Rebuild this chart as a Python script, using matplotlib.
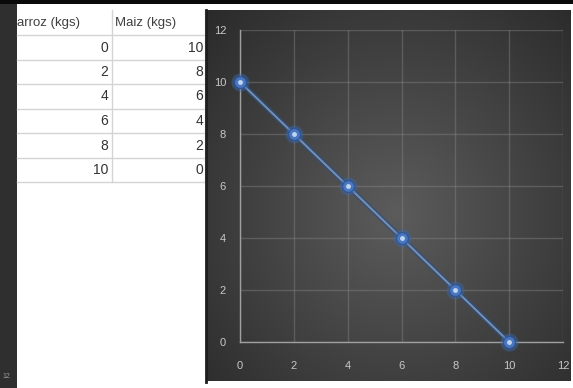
import numpy as np
import matplotlib
matplotlib.use("Agg")
import matplotlib.pyplot as plt
from matplotlib.patches import Rectangle
from matplotlib.lines import Line2D

# ---- data ----
col_headers = ["arroz (kgs)", "Maiz (kgs)"]
arroz = [0, 2, 4, 6, 8, 10]
maiz = [10, 8, 6, 4, 2, 0]
x_ticks = [0, 2, 4, 6, 8, 10, 12]
y_ticks = [0, 2, 4, 6, 8, 10, 12]

W, H = 573, 388
fig = plt.figure(figsize=(W / 100, H / 100), dpi=100)
fig.patch.set_facecolor("white")

def fx(px):
    return px / W

def fy(py):
    return 1 - py / H

FONT = "Liberation Sans"

# left dark strip (spreadsheet edge)
fig.patches.append(Rectangle((0, 0), fx(17), 1, transform=fig.transFigure,
                             facecolor="#2f2f2f", edgecolor="none", zorder=1))
fig.text(fx(2), fy(376), "12", color="#9a9a9a", fontsize=5, family=FONT,
         va="center", ha="left")
# top black bar
fig.patches.append(Rectangle((0, fy(4)), 1, 4 / H, transform=fig.transFigure,
                             facecolor="#0a0a0a", edgecolor="none", zorder=5))

# ---- table ----
grid_c = "#d4d4d4"
row_lines = [35 + 24.5 * i for i in range(7)]
for yl in row_lines:
    fig.lines.append(Line2D([fx(17), fx(206)], [fy(yl), fy(yl)], transform=fig.transFigure,
                            color=grid_c, lw=1, zorder=2))
for xl in [112, 205]:
    fig.lines.append(Line2D([fx(xl), fx(xl)], [fy(10), fy(182)], transform=fig.transFigure,
                            color=grid_c, lw=1, zorder=2))
fig.text(fx(17), fy(23), col_headers[0], color="#404040", fontsize=9.5, family=FONT,
         va="center", ha="left", zorder=3)
fig.text(fx(115), fy(23), col_headers[1], color="#404040", fontsize=9.5, family=FONT,
         va="center", ha="left", zorder=3)
for i, (a, m) in enumerate(zip(arroz, maiz)):
    yc = 35 + 24.5 * i + 12.5
    fig.text(fx(108), fy(yc), str(a), color="#333333", fontsize=10, family=FONT,
             va="center", ha="right", zorder=3)
    fig.text(fx(203), fy(yc), str(m), color="#333333", fontsize=10, family=FONT,
             va="center", ha="right", zorder=3)

# ---- chart panel background (radial gradient) ----
px0, py0, px1, py1 = 207, 10, 571, 381
bg = fig.add_axes([fx(px0), fy(py1), fx(px1 - px0), (py1 - py0) / H])
bg.set_zorder(4)
yy, xx = np.mgrid[0:1:200j, 0:1:300j]
r = np.sqrt(((xx - 0.52) / 0.75) ** 2 + ((yy - 0.45) / 0.8) ** 2)
vals = np.clip(1 - r, 0, 1)
low, high = 0.16, 0.36
img = low + (high - low) * vals
bg.imshow(np.dstack([img, img, img]), aspect="auto", extent=[0, 1, 0, 1], origin="lower")
bg.set_xlim(0, 1)
bg.set_ylim(0, 1)
bg.axis("off")
# dark shadow border
fig.lines.append(Line2D([fx(206), fx(206)], [fy(10), fy(382)], transform=fig.transFigure,
                        color="#1e1e1e", lw=2, zorder=6))

# ---- plot axes ----
ax = fig.add_axes([fx(240), fy(342), fx(563 - 240), (342 - 30) / H])
ax.set_zorder(5)
ax.patch.set_alpha(0)
ax.set_xlim(0, 12)
ax.set_ylim(0, 12)
ax.set_xticks(x_ticks)
ax.set_yticks(y_ticks)
ax.grid(True, color="#8a8a8a", lw=1, alpha=0.4)
for s in ["top", "right"]:
    ax.spines[s].set_visible(False)
for s in ["left", "bottom"]:
    ax.spines[s].set_color("#a0a0a0")
    ax.spines[s].set_linewidth(1)
ax.tick_params(length=0, colors="#c8c8c8", labelsize=8)
ax.tick_params(axis="x", pad=14)
ax.tick_params(axis="y", pad=10)
for lab in ax.get_xticklabels() + ax.get_yticklabels():
    lab.set_family(FONT)

ax.plot(arroz, maiz, color="#2f4f80", lw=4, alpha=0.6, zorder=3, clip_on=False)
ax.plot(arroz, maiz, color="#7391b8", lw=1.4, zorder=4, clip_on=False)
ax.plot(arroz, maiz, ls="none", marker="o", ms=13, color="#3a68b0", alpha=0.45,
        mec="none", zorder=5, clip_on=False)
ax.plot(arroz, maiz, ls="none", marker="o", ms=8.5, color="#4a78c0",
        mec="#2f5597", mew=0.8, zorder=6, clip_on=False)
ax.plot(arroz, maiz, ls="none", marker="o", ms=3.5, color="#c0d4f2",
        mec="none", zorder=7, clip_on=False)

fig.savefig("out.png", dpi=100)
